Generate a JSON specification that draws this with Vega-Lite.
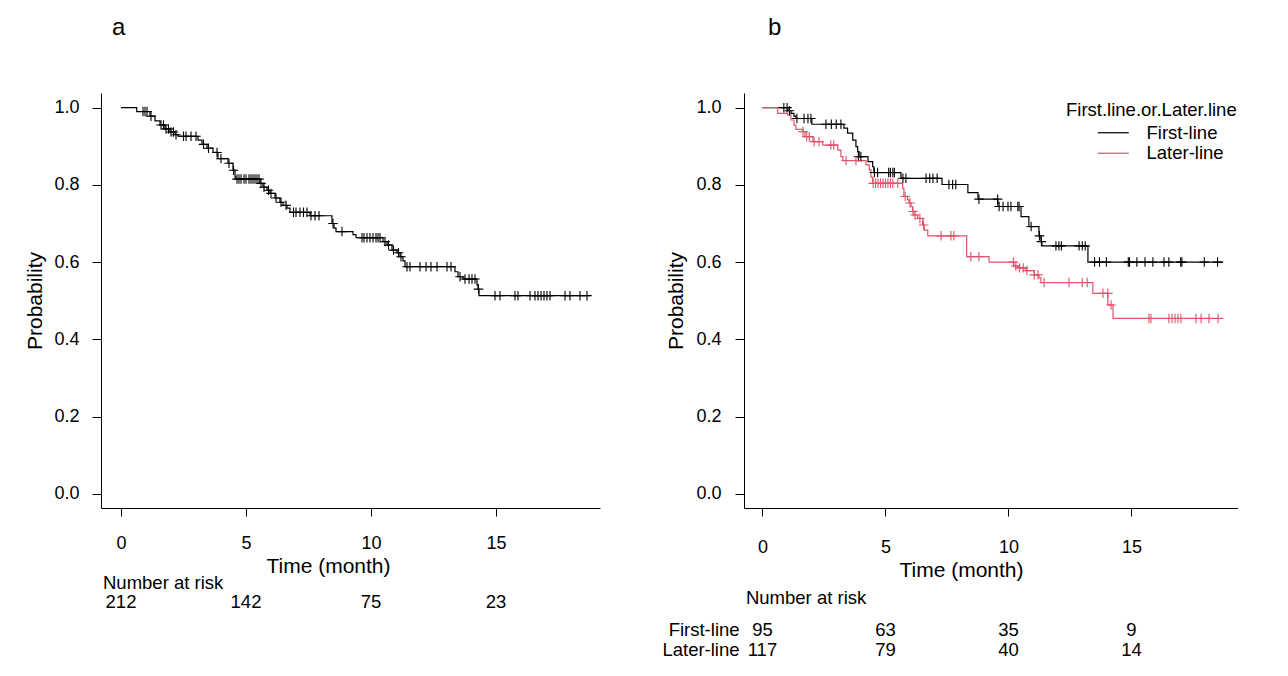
{
  "$schema": "https://vega.github.io/schema/vega-lite/v6.json",
  "padding": {"left": 24, "top": 16, "right": 0, "bottom": 0},
  "spacing": 144,
  "bounds": "flush",
  "config": {
    "font": "Liberation Sans",
    "view": {"stroke": null},
    "axis": {
      "grid": false,
      "domainColor": "black",
      "tickColor": "black",
      "labelColor": "black",
      "titleColor": "black",
      "labelFontSize": 18,
      "titleFontSize": 21,
      "titleFontWeight": "normal",
      "domainWidth": 1,
      "tickWidth": 1
    }
  },
  "datasets": {
    "kmA": [
      {"time": 0, "surv": 1.0}, {"time": 0.63, "surv": 0.99}, {"time": 1.16, "surv": 0.978},
      {"time": 1.36, "surv": 0.966}, {"time": 1.56, "surv": 0.955}, {"time": 1.76, "surv": 0.945},
      {"time": 1.96, "surv": 0.937}, {"time": 2.16, "surv": 0.93}, {"time": 2.28, "surv": 0.926},
      {"time": 3.08, "surv": 0.916}, {"time": 3.24, "surv": 0.905}, {"time": 3.44, "surv": 0.895},
      {"time": 3.68, "surv": 0.884}, {"time": 3.88, "surv": 0.868}, {"time": 4.28, "surv": 0.856},
      {"time": 4.48, "surv": 0.838}, {"time": 4.56, "surv": 0.82}, {"time": 4.6, "surv": 0.815},
      {"time": 5.56, "surv": 0.804}, {"time": 5.68, "surv": 0.794}, {"time": 5.84, "surv": 0.786},
      {"time": 5.96, "surv": 0.778}, {"time": 6.16, "surv": 0.766}, {"time": 6.36, "surv": 0.755},
      {"time": 6.48, "surv": 0.747}, {"time": 6.64, "surv": 0.74}, {"time": 6.76, "surv": 0.729},
      {"time": 7.56, "surv": 0.72}, {"time": 8.44, "surv": 0.7}, {"time": 8.52, "surv": 0.688},
      {"time": 8.6, "surv": 0.679}, {"time": 9.28, "surv": 0.671}, {"time": 9.4, "surv": 0.663},
      {"time": 10.48, "surv": 0.653}, {"time": 10.64, "surv": 0.644}, {"time": 10.84, "surv": 0.631},
      {"time": 11.04, "surv": 0.624}, {"time": 11.16, "surv": 0.614}, {"time": 11.28, "surv": 0.603},
      {"time": 11.36, "surv": 0.588}, {"time": 13.36, "surv": 0.575}, {"time": 13.48, "surv": 0.562},
      {"time": 13.68, "surv": 0.556}, {"time": 14.24, "surv": 0.541}, {"time": 14.28, "surv": 0.53},
      {"time": 14.32, "surv": 0.513}, {"time": 18.76, "surv": 0.513}
    ],
    "censA": [
      {"time": 0.88, "surv": 0.99}, {"time": 0.96, "surv": 0.99}, {"time": 1.04, "surv": 0.99},
      {"time": 1.2, "surv": 0.978}, {"time": 1.6, "surv": 0.955}, {"time": 1.7, "surv": 0.955},
      {"time": 1.8, "surv": 0.945}, {"time": 1.9, "surv": 0.945}, {"time": 2.0, "surv": 0.937},
      {"time": 2.1, "surv": 0.937}, {"time": 2.2, "surv": 0.93}, {"time": 2.5, "surv": 0.926},
      {"time": 2.6, "surv": 0.926}, {"time": 2.8, "surv": 0.926}, {"time": 3.0, "surv": 0.926},
      {"time": 3.3, "surv": 0.905}, {"time": 3.5, "surv": 0.895}, {"time": 3.84, "surv": 0.884},
      {"time": 4.0, "surv": 0.868}, {"time": 4.32, "surv": 0.856}, {"time": 4.5, "surv": 0.838},
      {"time": 4.64, "surv": 0.815}, {"time": 4.72, "surv": 0.815}, {"time": 4.8, "surv": 0.815},
      {"time": 4.92, "surv": 0.815}, {"time": 5.0, "surv": 0.815}, {"time": 5.12, "surv": 0.815},
      {"time": 5.2, "surv": 0.815}, {"time": 5.28, "surv": 0.815}, {"time": 5.36, "surv": 0.815},
      {"time": 5.44, "surv": 0.815}, {"time": 5.52, "surv": 0.815}, {"time": 5.6, "surv": 0.804},
      {"time": 5.72, "surv": 0.794}, {"time": 5.9, "surv": 0.786}, {"time": 6.0, "surv": 0.778},
      {"time": 6.2, "surv": 0.766}, {"time": 6.4, "surv": 0.755}, {"time": 6.6, "surv": 0.747},
      {"time": 6.9, "surv": 0.729}, {"time": 7.0, "surv": 0.729}, {"time": 7.16, "surv": 0.729},
      {"time": 7.3, "surv": 0.729}, {"time": 7.44, "surv": 0.729}, {"time": 7.6, "surv": 0.72},
      {"time": 7.76, "surv": 0.72}, {"time": 7.92, "surv": 0.72}, {"time": 8.48, "surv": 0.7},
      {"time": 8.84, "surv": 0.679}, {"time": 9.64, "surv": 0.663}, {"time": 9.72, "surv": 0.663},
      {"time": 9.84, "surv": 0.663}, {"time": 9.96, "surv": 0.663}, {"time": 10.08, "surv": 0.663},
      {"time": 10.2, "surv": 0.663}, {"time": 10.28, "surv": 0.663}, {"time": 10.36, "surv": 0.663},
      {"time": 10.56, "surv": 0.653}, {"time": 10.7, "surv": 0.644}, {"time": 10.9, "surv": 0.631},
      {"time": 11.1, "surv": 0.624}, {"time": 11.2, "surv": 0.614}, {"time": 11.44, "surv": 0.588},
      {"time": 11.56, "surv": 0.588}, {"time": 11.96, "surv": 0.588}, {"time": 12.2, "surv": 0.588},
      {"time": 12.4, "surv": 0.588}, {"time": 12.64, "surv": 0.588}, {"time": 13.04, "surv": 0.588},
      {"time": 13.2, "surv": 0.588}, {"time": 13.56, "surv": 0.562}, {"time": 13.76, "surv": 0.556},
      {"time": 13.92, "surv": 0.556}, {"time": 14.04, "surv": 0.556}, {"time": 14.16, "surv": 0.556},
      {"time": 14.3, "surv": 0.53}, {"time": 14.96, "surv": 0.513}, {"time": 15.16, "surv": 0.513},
      {"time": 15.76, "surv": 0.513}, {"time": 15.88, "surv": 0.513}, {"time": 16.36, "surv": 0.513},
      {"time": 16.56, "surv": 0.513}, {"time": 16.68, "surv": 0.513}, {"time": 16.8, "surv": 0.513},
      {"time": 16.92, "surv": 0.513}, {"time": 17.04, "surv": 0.513}, {"time": 17.16, "surv": 0.513},
      {"time": 17.76, "surv": 0.513}, {"time": 17.96, "surv": 0.513}, {"time": 18.36, "surv": 0.513},
      {"time": 18.64, "surv": 0.513}
    ],
    "riskA": [
      {"time": 0, "n": 212}, {"time": 5, "n": 142}, {"time": 10, "n": 75}, {"time": 15, "n": 23}
    ],
    "kmB": [
      {"group": "First-line", "time": 0, "surv": 1.0}, {"group": "First-line", "time": 1.04, "surv": 0.992},
      {"group": "First-line", "time": 1.16, "surv": 0.985}, {"group": "First-line", "time": 1.28, "surv": 0.978},
      {"group": "First-line", "time": 1.36, "surv": 0.972}, {"group": "First-line", "time": 2.01, "surv": 0.957},
      {"group": "First-line", "time": 3.31, "surv": 0.947}, {"group": "First-line", "time": 3.46, "surv": 0.934},
      {"group": "First-line", "time": 3.67, "surv": 0.916}, {"group": "First-line", "time": 3.8, "surv": 0.899},
      {"group": "First-line", "time": 3.87, "surv": 0.886}, {"group": "First-line", "time": 3.93, "surv": 0.873},
      {"group": "First-line", "time": 4.29, "surv": 0.86}, {"group": "First-line", "time": 4.48, "surv": 0.847},
      {"group": "First-line", "time": 4.53, "surv": 0.832}, {"group": "First-line", "time": 5.63, "surv": 0.817},
      {"group": "First-line", "time": 7.3, "surv": 0.801}, {"group": "First-line", "time": 8.35, "surv": 0.78},
      {"group": "First-line", "time": 8.76, "surv": 0.763}, {"group": "First-line", "time": 9.57, "surv": 0.744},
      {"group": "First-line", "time": 10.51, "surv": 0.718}, {"group": "First-line", "time": 10.83, "surv": 0.692},
      {"group": "First-line", "time": 11.24, "surv": 0.668}, {"group": "First-line", "time": 11.32, "surv": 0.653},
      {"group": "First-line", "time": 11.36, "surv": 0.642}, {"group": "First-line", "time": 13.23, "surv": 0.6},
      {"group": "First-line", "time": 18.73, "surv": 0.6},
      {"group": "Later-line", "time": 0, "surv": 1.0}, {"group": "Later-line", "time": 0.62, "surv": 0.985},
      {"group": "Later-line", "time": 1.02, "surv": 0.981}, {"group": "Later-line", "time": 1.16, "surv": 0.968},
      {"group": "Later-line", "time": 1.28, "surv": 0.955}, {"group": "Later-line", "time": 1.36, "surv": 0.944},
      {"group": "Later-line", "time": 1.63, "surv": 0.938}, {"group": "Later-line", "time": 1.73, "surv": 0.925},
      {"group": "Later-line", "time": 2.05, "surv": 0.912}, {"group": "Later-line", "time": 2.45, "surv": 0.903},
      {"group": "Later-line", "time": 3.06, "surv": 0.89}, {"group": "Later-line", "time": 3.19, "surv": 0.873},
      {"group": "Later-line", "time": 3.27, "surv": 0.863}, {"group": "Later-line", "time": 4.21, "surv": 0.852},
      {"group": "Later-line", "time": 4.34, "surv": 0.839}, {"group": "Later-line", "time": 4.41, "surv": 0.82},
      {"group": "Later-line", "time": 4.48, "surv": 0.804}, {"group": "Later-line", "time": 5.7, "surv": 0.791},
      {"group": "Later-line", "time": 5.75, "surv": 0.77}, {"group": "Later-line", "time": 5.9, "surv": 0.761},
      {"group": "Later-line", "time": 5.96, "surv": 0.753}, {"group": "Later-line", "time": 6.04, "surv": 0.744},
      {"group": "Later-line", "time": 6.1, "surv": 0.731}, {"group": "Later-line", "time": 6.16, "surv": 0.722},
      {"group": "Later-line", "time": 6.31, "surv": 0.713}, {"group": "Later-line", "time": 6.51, "surv": 0.696},
      {"group": "Later-line", "time": 6.57, "surv": 0.683}, {"group": "Later-line", "time": 6.72, "surv": 0.668},
      {"group": "Later-line", "time": 8.3, "surv": 0.614}, {"group": "Later-line", "time": 9.21, "surv": 0.6},
      {"group": "Later-line", "time": 10.22, "surv": 0.59}, {"group": "Later-line", "time": 10.39, "surv": 0.585},
      {"group": "Later-line", "time": 10.71, "surv": 0.578}, {"group": "Later-line", "time": 11.04, "surv": 0.567},
      {"group": "Later-line", "time": 11.24, "surv": 0.559}, {"group": "Later-line", "time": 11.32, "surv": 0.547},
      {"group": "Later-line", "time": 13.43, "surv": 0.519}, {"group": "Later-line", "time": 14.04, "surv": 0.489},
      {"group": "Later-line", "time": 14.25, "surv": 0.454}, {"group": "Later-line", "time": 18.73, "surv": 0.454}
    ],
    "censB": [
      {"group": "First-line", "time": 0.87, "surv": 1.0}, {"group": "First-line", "time": 1.0, "surv": 1.0},
      {"group": "First-line", "time": 1.1, "surv": 0.992}, {"group": "First-line", "time": 1.4, "surv": 0.972},
      {"group": "First-line", "time": 1.69, "surv": 0.972}, {"group": "First-line", "time": 1.85, "surv": 0.972},
      {"group": "First-line", "time": 1.97, "surv": 0.972}, {"group": "First-line", "time": 2.58, "surv": 0.957},
      {"group": "First-line", "time": 2.8, "surv": 0.957}, {"group": "First-line", "time": 3.0, "surv": 0.957},
      {"group": "First-line", "time": 3.19, "surv": 0.957}, {"group": "First-line", "time": 3.9, "surv": 0.873},
      {"group": "First-line", "time": 4.0, "surv": 0.873}, {"group": "First-line", "time": 4.55, "surv": 0.832},
      {"group": "First-line", "time": 4.68, "surv": 0.832}, {"group": "First-line", "time": 5.13, "surv": 0.832},
      {"group": "First-line", "time": 5.2, "surv": 0.832}, {"group": "First-line", "time": 5.3, "surv": 0.832},
      {"group": "First-line", "time": 5.36, "surv": 0.832}, {"group": "First-line", "time": 5.71, "surv": 0.817},
      {"group": "First-line", "time": 5.83, "surv": 0.817}, {"group": "First-line", "time": 6.65, "surv": 0.817},
      {"group": "First-line", "time": 6.8, "surv": 0.817}, {"group": "First-line", "time": 6.93, "surv": 0.817},
      {"group": "First-line", "time": 7.1, "surv": 0.817}, {"group": "First-line", "time": 7.58, "surv": 0.801},
      {"group": "First-line", "time": 7.73, "surv": 0.801}, {"group": "First-line", "time": 7.86, "surv": 0.801},
      {"group": "First-line", "time": 8.8, "surv": 0.763}, {"group": "First-line", "time": 9.56, "surv": 0.763},
      {"group": "First-line", "time": 9.62, "surv": 0.744}, {"group": "First-line", "time": 9.78, "surv": 0.744},
      {"group": "First-line", "time": 9.98, "surv": 0.744}, {"group": "First-line", "time": 10.1, "surv": 0.744},
      {"group": "First-line", "time": 10.38, "surv": 0.744}, {"group": "First-line", "time": 10.43, "surv": 0.744},
      {"group": "First-line", "time": 10.92, "surv": 0.692}, {"group": "First-line", "time": 11.26, "surv": 0.668},
      {"group": "First-line", "time": 11.34, "surv": 0.653}, {"group": "First-line", "time": 11.93, "surv": 0.642},
      {"group": "First-line", "time": 12.05, "surv": 0.642}, {"group": "First-line", "time": 12.15, "surv": 0.642},
      {"group": "First-line", "time": 12.87, "surv": 0.642}, {"group": "First-line", "time": 13.0, "surv": 0.642},
      {"group": "First-line", "time": 13.12, "surv": 0.642}, {"group": "First-line", "time": 13.5, "surv": 0.6},
      {"group": "First-line", "time": 13.7, "surv": 0.6}, {"group": "First-line", "time": 13.98, "surv": 0.6},
      {"group": "First-line", "time": 14.87, "surv": 0.6}, {"group": "First-line", "time": 14.92, "surv": 0.6},
      {"group": "First-line", "time": 15.22, "surv": 0.6}, {"group": "First-line", "time": 15.55, "surv": 0.6},
      {"group": "First-line", "time": 15.87, "surv": 0.6}, {"group": "First-line", "time": 16.32, "surv": 0.6},
      {"group": "First-line", "time": 16.52, "surv": 0.6}, {"group": "First-line", "time": 17.0, "surv": 0.6},
      {"group": "First-line", "time": 17.05, "surv": 0.6}, {"group": "First-line", "time": 17.96, "surv": 0.6},
      {"group": "First-line", "time": 18.5, "surv": 0.6},
      {"group": "Later-line", "time": 1.65, "surv": 0.938}, {"group": "Later-line", "time": 1.8, "surv": 0.925},
      {"group": "Later-line", "time": 1.9, "surv": 0.925}, {"group": "Later-line", "time": 2.1, "surv": 0.912},
      {"group": "Later-line", "time": 2.3, "surv": 0.912}, {"group": "Later-line", "time": 2.78, "surv": 0.903},
      {"group": "Later-line", "time": 2.9, "surv": 0.903}, {"group": "Later-line", "time": 3.4, "surv": 0.863},
      {"group": "Later-line", "time": 3.8, "surv": 0.863}, {"group": "Later-line", "time": 4.5, "surv": 0.804},
      {"group": "Later-line", "time": 4.6, "surv": 0.804}, {"group": "Later-line", "time": 4.7, "surv": 0.804},
      {"group": "Later-line", "time": 4.8, "surv": 0.804}, {"group": "Later-line", "time": 4.9, "surv": 0.804},
      {"group": "Later-line", "time": 5.0, "surv": 0.804}, {"group": "Later-line", "time": 5.1, "surv": 0.804},
      {"group": "Later-line", "time": 5.2, "surv": 0.804}, {"group": "Later-line", "time": 5.3, "surv": 0.804},
      {"group": "Later-line", "time": 5.5, "surv": 0.804}, {"group": "Later-line", "time": 5.8, "surv": 0.77},
      {"group": "Later-line", "time": 6.0, "surv": 0.753}, {"group": "Later-line", "time": 6.12, "surv": 0.731},
      {"group": "Later-line", "time": 6.2, "surv": 0.722}, {"group": "Later-line", "time": 6.4, "surv": 0.713},
      {"group": "Later-line", "time": 6.55, "surv": 0.696}, {"group": "Later-line", "time": 7.26, "surv": 0.668},
      {"group": "Later-line", "time": 7.66, "surv": 0.668}, {"group": "Later-line", "time": 7.78, "surv": 0.668},
      {"group": "Later-line", "time": 8.47, "surv": 0.614}, {"group": "Later-line", "time": 8.8, "surv": 0.614},
      {"group": "Later-line", "time": 10.2, "surv": 0.6}, {"group": "Later-line", "time": 10.3, "surv": 0.59},
      {"group": "Later-line", "time": 10.45, "surv": 0.585}, {"group": "Later-line", "time": 10.6, "surv": 0.585},
      {"group": "Later-line", "time": 10.75, "surv": 0.578}, {"group": "Later-line", "time": 11.05, "surv": 0.567},
      {"group": "Later-line", "time": 11.2, "surv": 0.567}, {"group": "Later-line", "time": 11.45, "surv": 0.547},
      {"group": "Later-line", "time": 12.46, "surv": 0.547}, {"group": "Later-line", "time": 13.0, "surv": 0.547},
      {"group": "Later-line", "time": 13.2, "surv": 0.547}, {"group": "Later-line", "time": 13.84, "surv": 0.519},
      {"group": "Later-line", "time": 14.04, "surv": 0.519}, {"group": "Later-line", "time": 14.17, "surv": 0.489},
      {"group": "Later-line", "time": 15.71, "surv": 0.454}, {"group": "Later-line", "time": 15.79, "surv": 0.454},
      {"group": "Later-line", "time": 16.52, "surv": 0.454}, {"group": "Later-line", "time": 16.65, "surv": 0.454},
      {"group": "Later-line", "time": 16.77, "surv": 0.454}, {"group": "Later-line", "time": 16.89, "surv": 0.454},
      {"group": "Later-line", "time": 17.01, "surv": 0.454}, {"group": "Later-line", "time": 17.62, "surv": 0.454},
      {"group": "Later-line", "time": 17.83, "surv": 0.454}, {"group": "Later-line", "time": 18.15, "surv": 0.454},
      {"group": "Later-line", "time": 18.52, "surv": 0.454}
    ],
    "riskB": [
      {"group": "First-line", "time": 0, "n": 95}, {"group": "First-line", "time": 5, "n": 63},
      {"group": "First-line", "time": 10, "n": 35}, {"group": "First-line", "time": 15, "n": 9},
      {"group": "Later-line", "time": 0, "n": 117}, {"group": "Later-line", "time": 5, "n": 79},
      {"group": "Later-line", "time": 10, "n": 40}, {"group": "Later-line", "time": 15, "n": 14}
    ],
    "groups": [{"group": "First-line"}, {"group": "Later-line"}],
    "header": [{"label": "Number at risk"}]
  },
  "hconcat": [
    {
      "width": 499,
      "height": 415,
      "title": {"text": "a", "anchor": "start", "frame": "group", "dx": 11, "offset": 34, "fontSize": 24, "fontWeight": "normal", "baseline": "alphabetic", "color": "black"},
      "layer": [
        {
          "data": {"name": "kmA"},
          "mark": {"type": "line", "interpolate": "step-after", "color": "black", "strokeWidth": 1.2},
          "encoding": {
            "x": {
              "field": "time", "type": "quantitative",
              "scale": {"domain": [-0.8, 19.16], "nice": false, "zero": false},
              "axis": {"title": "Time (month)", "values": [0, 5, 10, 15], "tickSize": 8, "labelPadding": 18,
                       "titleX": 227, "titleY": 58, "titleBaseline": "middle", "titleAlign": "center"}
            },
            "y": {
              "field": "surv", "type": "quantitative",
              "scale": {"domain": [-0.037, 1.038], "nice": false, "zero": false},
              "axis": {"title": "Probability", "values": [0, 0.2, 0.4, 0.6, 0.8, 1], "format": ".1f", "tickSize": 9, "labelPadding": 13,
                       "titleX": -66, "titleY": 207.5, "titleBaseline": "middle", "titleAlign": "center"}
            }
          }
        },
        {
          "data": {"name": "censA"},
          "mark": {"type": "point", "shape": "M-1,0L1,0M0,-1L0,1", "size": 90, "filled": false, "color": "black", "strokeWidth": 1.1, "opacity": 1},
          "encoding": {
            "x": {"field": "time", "type": "quantitative"},
            "y": {"field": "surv", "type": "quantitative"}
          }
        },
        {
          "data": {"name": "header"},
          "mark": {"type": "text", "align": "left", "baseline": "middle", "fontSize": 18.5, "color": "black"},
          "encoding": {
            "x": {"datum": -0.72, "type": "quantitative"},
            "y": {"datum": -0.2313, "type": "quantitative"},
            "text": {"field": "label", "type": "nominal"}
          }
        },
        {
          "data": {"name": "riskA"},
          "mark": {"type": "text", "align": "center", "baseline": "middle", "fontSize": 18.5, "color": "black"},
          "encoding": {
            "x": {"field": "time", "type": "quantitative"},
            "y": {"datum": -0.2798, "type": "quantitative"},
            "text": {"field": "n", "type": "quantitative"}
          }
        }
      ]
    },
    {
      "width": 494,
      "height": 415,
      "title": {"text": "b", "anchor": "start", "frame": "group", "dx": 24, "offset": 34, "fontSize": 24, "fontWeight": "normal", "baseline": "alphabetic", "color": "black"},
      "layer": [
        {
          "data": {"name": "kmB"},
          "mark": {"type": "line", "interpolate": "step-after", "strokeWidth": 1.2},
          "encoding": {
            "x": {
              "field": "time", "type": "quantitative",
              "scale": {"domain": [-0.75, 19.33], "nice": false, "zero": false},
              "axis": {"title": "Time (month)", "values": [0, 5, 10, 15], "tickSize": 8, "labelPadding": 22,
                       "titleX": 217, "titleY": 62, "titleBaseline": "middle", "titleAlign": "center"}
            },
            "y": {
              "field": "surv", "type": "quantitative",
              "scale": {"domain": [-0.037, 1.038], "nice": false, "zero": false},
              "axis": {"title": "Probability", "values": [0, 0.2, 0.4, 0.6, 0.8, 1], "format": ".1f", "tickSize": 9, "labelPadding": 14,
                       "titleX": -68, "titleY": 207.5, "titleBaseline": "middle", "titleAlign": "center"}
            },
            "color": {
              "field": "group", "type": "nominal",
              "scale": {"domain": ["First-line", "Later-line"], "range": ["#000000", "#DF536B"]},
              "legend": {
                "title": "First.line.or.Later.line", "orient": "none", "legendX": 965, "legendY": 8,
                "titleFontSize": 18.5, "titleFontWeight": "normal", "titleColor": "black", "titlePadding": 4,
                "labelFontSize": 18.5, "labelColor": "black", "labelOffset": 24,
                "symbolType": "M-3,0L3,0", "symbolSize": 107, "symbolStrokeWidth": 1.2, "symbolOffset": 38,
                "rowPadding": 1.5, "padding": 0
              }
            }
          }
        },
        {
          "data": {"name": "censB"},
          "mark": {"type": "point", "shape": "M-1,0L1,0M0,-1L0,1", "size": 90, "filled": false, "strokeWidth": 1.1, "opacity": 1},
          "encoding": {
            "x": {"field": "time", "type": "quantitative"},
            "y": {"field": "surv", "type": "quantitative"},
            "stroke": {
              "field": "group", "type": "nominal",
              "scale": {"domain": ["First-line", "Later-line"], "range": ["#000000", "#DF536B"]},
              "legend": null
            }
          }
        },
        {
          "data": {"name": "header"},
          "mark": {"type": "text", "align": "left", "baseline": "middle", "fontSize": 18.5, "color": "black"},
          "encoding": {
            "x": {"datum": -0.67, "type": "quantitative"},
            "y": {"datum": -0.2702, "type": "quantitative"},
            "text": {"field": "label", "type": "nominal"}
          }
        },
        {
          "data": {"name": "groups"},
          "transform": [{"filter": "datum.group == 'First-line'"}],
          "mark": {"type": "text", "align": "right", "baseline": "middle", "fontSize": 18.5, "color": "black"},
          "encoding": {
            "x": {"datum": -0.93, "type": "quantitative"},
            "y": {"datum": -0.3531, "type": "quantitative"},
            "text": {"field": "group", "type": "nominal"}
          }
        },
        {
          "data": {"name": "groups"},
          "transform": [{"filter": "datum.group == 'Later-line'"}],
          "mark": {"type": "text", "align": "right", "baseline": "middle", "fontSize": 18.5, "color": "black"},
          "encoding": {
            "x": {"datum": -0.93, "type": "quantitative"},
            "y": {"datum": -0.4049, "type": "quantitative"},
            "text": {"field": "group", "type": "nominal"}
          }
        },
        {
          "data": {"name": "riskB"},
          "transform": [{"filter": "datum.group == 'First-line'"}],
          "mark": {"type": "text", "align": "center", "baseline": "middle", "fontSize": 18.5, "color": "black"},
          "encoding": {
            "x": {"field": "time", "type": "quantitative"},
            "y": {"datum": -0.3531, "type": "quantitative"},
            "text": {"field": "n", "type": "quantitative"}
          }
        },
        {
          "data": {"name": "riskB"},
          "transform": [{"filter": "datum.group == 'Later-line'"}],
          "mark": {"type": "text", "align": "center", "baseline": "middle", "fontSize": 18.5, "color": "black"},
          "encoding": {
            "x": {"field": "time", "type": "quantitative"},
            "y": {"datum": -0.4049, "type": "quantitative"},
            "text": {"field": "n", "type": "quantitative"}
          }
        }
      ]
    }
  ]
}
